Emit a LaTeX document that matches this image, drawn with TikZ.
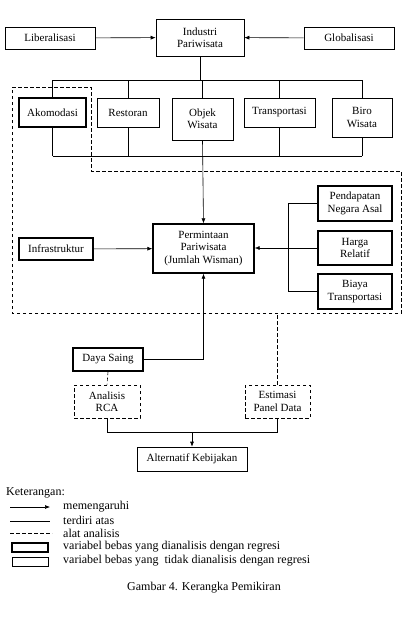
\documentclass[tikz,border=0pt]{standalone}
\usepackage{fontspec}
\setmainfont{Liberation Serif}
\usetikzlibrary{arrows.meta,positioning}
\tikzset{>={Latex[length=5pt,width=4pt]}}
\tikzset{
  box/.style={draw, line width=0.6pt, fill=white, inner sep=1pt, align=center, font=\fontsize{11}{12.5}\selectfont},
  tbox/.style={box, line width=1.3pt},
  dbox/.style={box, dash pattern=on 3.5pt off 2.5pt},
  arrow/.style={->, line width=0.6pt},
  link/.style={line width=0.6pt},
  dlink/.style={line width=0.6pt, dash pattern=on 3.5pt off 2.5pt},
  legtext/.style={anchor=west, inner sep=0pt, font=\fontsize{12}{14}\selectfont},
}
\begin{document}
\begin{tikzpicture}[x=1pt, y=-1pt]
\useasboundingbox (0,0) rectangle (403,627);

% industri and its drivers
\node[box, minimum width=88pt, minimum height=37pt] (ind) at (200,37.5) {Industri\\Pariwisata};
\node[box, minimum width=90pt, minimum height=22pt] (lib) at (50,38) {Liberalisasi};
\node[box, minimum width=90pt, minimum height=22pt] (glob) at (349,38) {Globalisasi};
\draw[arrow] (lib) -- (ind);
\draw[arrow] (glob) -- (ind);

% sub-sectors
\node[tbox, minimum width=67pt, minimum height=29pt] (ako) at (52.5,112.5) {Akomodasi};
\node[box, minimum width=62pt, minimum height=29pt] (res) at (128,112.5) {Restoran};
\node[box, minimum width=61pt, minimum height=42pt] (obj) at (202.5,119) {Objek\\Wisata};
\node[box, minimum width=71pt, minimum height=29pt] (tra) at (279.5,112.5) {Transportasi};
\node[box, minimum width=60pt, minimum height=39pt] (biro) at (362,117.5) {Biro\\Wisata};

\coordinate (top) at (0,80);
\coordinate (bot) at (0,156);
\draw[link] (ind.south) -- (ind.south |- top);
\draw[link] (ako.north |- top) -- (biro.north |- top);
\foreach \n in {ako,res,obj,tra,biro}
  \draw[link] (\n.north |- top) -- (\n.north);
\foreach \n in {ako,res,tra,biro}
  \draw[link] (\n.south) -- (\n.south |- bot);
\draw[link] (ako.south |- bot) -- (biro.south |- bot);

% demand
\node[tbox, minimum width=101pt, minimum height=49pt] (per) at (203.5,248.5) {Permintaan\\Pariwisata\\(Jumlah Wisman)};
\node[tbox, minimum width=74pt, minimum height=22pt] (inf) at (56,249) {Infrastruktur};
\node[tbox, minimum width=74pt, minimum height=35pt] (pen) at (355,203.5) {Pendapatan\\Negara Asal};
\node[tbox, minimum width=74pt, minimum height=34pt] (har) at (355,248) {Harga\\Relatif};
\node[tbox, minimum width=74pt, minimum height=35pt] (bia) at (355,291.5) {Biaya\\Transportasi};

\draw[arrow] (obj.south) -- (per.north);
\draw[arrow] (inf) -- (per);
\coordinate (brk) at (288,0);
\draw[link] (pen.west) -- (pen.west -| brk) -- (bia.west -| brk) -- (bia.west);
\draw[arrow] (har.west) -- (per.east |- har.west);

% regression area
\coordinate (dbot) at (12,313);
\draw[dlink] (12,87) -- (91,87) -- (91,171) -- (401,171) -- (401,313) -- (dbot) -- cycle;

% analysis
\node[tbox, minimum width=70pt, minimum height=23pt] (day) at (108,359.5) {Daya Saing};
\node[dbox, minimum width=66pt, minimum height=33pt] (rca) at (107,401.5) {Analisis\\RCA};
\node[dbox, minimum width=65pt, minimum height=33pt] (est) at (277.5,401.5) {Estimasi\\Panel Data};
\node[box, minimum width=110pt, minimum height=24pt] (alt) at (192,459) {Alternatif Kebijakan};

\draw[arrow] (day.east) -| (per.south);
\draw[dlink] (day.south) -- (rca.north);
\draw[dlink] (est.north) -- (est.north |- dbot);
\draw[link] (rca.south) -- ++(0,14) coordinate (jn) -| (est.south);
\draw[arrow] (alt.north |- jn) -- (alt.north);

% legend
\node[legtext] (ket) at (6,493) {Keterangan:};
\coordinate (la1) at (10,507); \coordinate (lb1) at (50,507);
\coordinate (la2) at (10,521); \coordinate (lb2) at (50,521);
\coordinate (la3) at (10,533); \coordinate (lb3) at (52,533);
\draw[arrow] (la1) -- (lb1);
\draw[link] (la2) -- (lb2);
\draw[dlink] (la3) -- (lb3);
\node[tbox, minimum width=36pt, minimum height=9pt] (lgt) at (30,547.5) {};
\node[box, minimum width=36pt, minimum height=9pt] (lgn) at (30,561.5) {};
\node[legtext] (t1) at (63,507) {memengaruhi};
\node[legtext] (t2) at (63,520) {terdiri atas};
\node[legtext] (t3) at (63,533) {alat analisis};
\node[legtext] (t4) at (63,547) {variabel bebas yang dianalisis dengan regresi};
\node[legtext] (t5) at (63,561) {variabel bebas yang\ \ tidak dianalisis dengan regresi};

\node[font=\fontsize{12}{14}\selectfont] (cap) at (204,588) {Gambar 4. Kerangka Pemikiran};
\end{tikzpicture}
\end{document}
